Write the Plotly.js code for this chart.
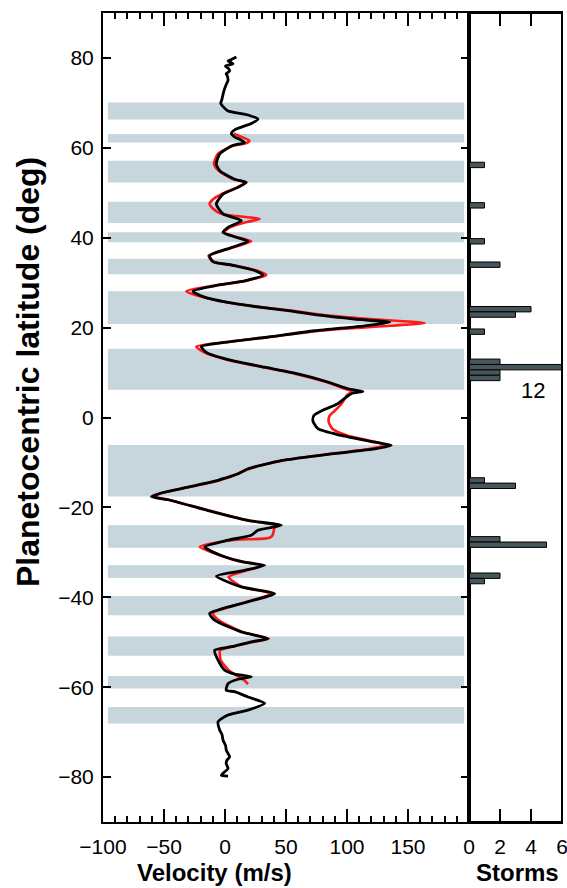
<!DOCTYPE html>
<html>
<head>
<meta charset="utf-8">
<script src="https://cdn.plot.ly/plotly-3.0.1.min.js"></script>
<style>
html,body{margin:0;padding:0;background:#fff;}
#wrap{position:relative;width:567px;height:888px;}
#chart{width:567px;height:888px;}
#cover{position:absolute;left:563px;top:10px;width:4px;height:815px;background:#fff;pointer-events:none;}
</style>
</head>
<body>
<div id="wrap"><div id="chart"></div><div id="cover"></div></div>
<script>
// Black profile (latitude in deg, velocity in m/s)
const blackLat = [80.2,79.6,79.3,78.7,78.2,77.6,77.1,76.5,76.0,75.0,74.1,73.0,71.9,70.8,69.9,69.0,68.2,67.3,66.4,65.4,64.1,63.2,62.4,61.9,61.2,60.7,60.4,58.6,56.4,54.9,53.0,52.3,51.2,49.7,47.5,45.3,43.8,42.3,41.2,40.1,39.2,37.8,36.0,34.7,33.8,32.7,31.7,30.4,29.3,28.1,26.9,25.6,24.7,23.8,22.7,21.9,21.2,20.4,19.3,17.8,16.7,15.8,14.5,12.7,11.2,9.7,7.9,6.4,5.8,5.3,3.0,1.6,0.5,-0.7,-2.5,-4.0,-5.5,-6.2,-7.0,-8.1,-9.6,-11.4,-12.5,-13.4,-13.7,-14.0,-15.5,-16.8,-17.6,-18.3,-20.7,-22.9,-24.0,-25.1,-26.2,-27.3,-28.8,-30.7,-32.2,-32.9,-34.0,-35.3,-37.7,-39.2,-41.0,-43.6,-45.1,-47.7,-49.2,-49.9,-51.0,-51.8,-54.0,-56.2,-57.1,-57.7,-58.3,-59.2,-60.7,-61.0,-62.2,-63.6,-65.1,-66.2,-67.7,-69.6,-70.5,-71.8,-73.0,-74.0,-75.5,-76.3,-77.0,-78.1,-79.0,-79.6,-79.8];
const blackVel = [9.3,5.0,2.5,6.6,0.3,3.0,3.8,1.0,1.9,2.5,1.0,-0.5,-1.6,-2.5,-3.5,-1.0,2.5,18.9,27.0,21.6,8.5,5.2,8.0,12.0,16.0,9.0,5.2,-4.4,-7.1,-4.3,7.9,17.5,10.7,-1.6,-7.1,-1.6,13.4,2.5,-1.6,9.3,18.9,5.2,-12.6,-9.8,7.9,24.3,31.1,16.1,-8.5,-26.2,-18.0,2.5,24.3,51.6,79.0,106.0,135.0,114.5,73.5,32.5,-0.3,-19.4,-15.3,5.2,32.5,59.8,84.4,100.8,113.0,103.5,92.0,80.0,73.0,72.0,76.2,95.3,122.7,136.3,122.7,87.0,46.2,18.9,10.7,1.0,-3.0,-5.7,-30.3,-52.2,-60.4,-46.7,-13.9,18.9,46.2,27.0,21.6,2.5,-16.6,-3.0,16.1,32.5,16.1,-7.1,13.4,40.7,18.9,-12.6,-8.5,13.4,35.2,21.6,5.2,-8.5,-5.7,-0.3,7.9,21.6,10.0,2.5,1.0,7.9,18.9,32.5,18.9,2.5,-5.7,-4.3,-2.5,-1.6,0.5,1.0,3.8,1.5,1.0,2.5,-1.0,-3.0,2.5];

// Red profile
const redLat = [63.2,62.5,61.6,61.0,60.4,58.6,56.4,54.9,53.0,52.3,51.2,49.7,48.5,47.5,46.5,45.3,44.2,43.5,42.3,41.2,40.1,39.2,37.8,36.0,34.7,33.8,32.7,31.7,30.4,29.3,28.1,26.9,25.6,24.7,23.8,22.7,21.9,21.0,20.4,19.3,17.8,16.7,15.8,14.5,12.7,11.2,9.7,7.9,6.4,5.8,5.0,3.0,1.5,0.4,-1.0,-2.5,-4.0,-5.5,-6.2,-7.0,-8.1,-9.6,-11.4,-12.5,-14.0,-15.5,-16.8,-17.6,-18.3,-20.7,-22.9,-24.0,-25.1,-26.2,-26.8,-27.3,-28.8,-30.7,-32.2,-32.9,-34.0,-35.5,-37.7,-39.2,-41.0,-43.6,-45.1,-47.7,-49.2,-50.0,-51.0,-51.8,-54.0,-56.2,-57.5,-58.5,-59.3];
const redVel = [7,13,20,17,6,-6,-9,-5,7,17,10,-3,-10,-12.6,-10,-3,28.4,18,4,-1,10,21.6,6,-13.5,-10,8,26,33.9,17,-10,-31.7,-20,2,25,54,85,120,163.7,135,78,33,-2,-23.5,-17,4,31,58,83,98,104,100,95.4,90,85.8,85,88,100,124,132,118,86,46,20,11,-5,-30,-52,-58,-46,-13,18,40.7,40,39,36,5,-20.7,-4,15,31,18,3,14,38,18,-10,-5,14,36,22,6,-4,-3.5,3,10,16,18.9];

// Shaded latitude bands (deg)
const bandLo = [66.3,61.2,52.3,43.3,39.0,31.9,20.8,6.2,-17.6,-29.0,-35.7,-44.0,-53.0,-60.3,-68.1];
const bandHi = [70.1,63.1,57.1,48.0,41.2,35.3,28.1,15.3,-6.1,-24.0,-32.9,-39.7,-48.7,-57.5,-64.4];

// Storm histogram
const stormLat = [56.2,47.2,39.2,34.0,24.1,22.9,19.1,12.4,11.2,10.0,8.8,-14.0,-15.2,-27.1,-28.3,-35.2,-36.4];
const stormCount = [1,1,1,2,4,3,1,2,12,2,2,1,3,2,5,2,1];

const velTicks = [-100,-50,0,50,100,150];
const stormTicks = [0,2,4,6];
const latTicks = [-80,-60,-40,-20,0,20,40,60,80];

const FONT = 'Liberation Sans, Arial, Helvetica, sans-serif';
const minus = v => v<0 ? '\u2212'+Math.abs(v) : String(v);

const shapes = bandLo.map((lo,i)=>({
  type:'rect', xref:'x', yref:'y', x0:-96, x1:196, y0:lo, y1:bandHi[i],
  fillcolor:'#c6d6dc', line:{width:0}, layer:'below'
}));

const split = 366/459;
shapes.push({type:'rect', xref:'paper', yref:'paper', x0:split, x1:1, y0:0, y1:1, fillcolor:'rgba(0,0,0,0)', line:{color:'#000', width:2}, layer:'above'});

const traces = [
  {x:redVel, y:redLat, type:'scatter', mode:'lines', line:{color:'#ff1a1a', width:2.6, shape:'spline', smoothing:0.6}, xaxis:'x', yaxis:'y', hoverinfo:'skip'},
  {x:blackVel, y:blackLat, type:'scatter', mode:'lines', line:{color:'#000000', width:2.8, shape:'spline', smoothing:0.6}, xaxis:'x', yaxis:'y', hoverinfo:'skip'},
  {x:stormCount, y:stormLat, type:'bar', orientation:'h', width:1.2, cliponaxis:true, marker:{color:'#46565a', line:{color:'#000', width:1}}, xaxis:'x2', yaxis:'y2', hoverinfo:'skip'}
];

const layout = {
  width:567, height:888,
  margin:{l:103, r:5, t:13, b:66},
  paper_bgcolor:'#fff', plot_bgcolor:'rgba(0,0,0,0)',
  showlegend:false,
  font:{family:FONT, size:21, color:'#000'},
  xaxis:{domain:[0,split], range:[-100,200], tickvals:velTicks, ticktext:velTicks.map(minus),
    ticks:'inside', ticklen:13, tickwidth:2, tickcolor:'#000', showline:true, linewidth:2, linecolor:'#000', mirror:'ticks',
    showgrid:false, zeroline:false, tickfont:{size:21, family:FONT}, ticklabelstandoff:5, ticklabeloverflow:'allow',
    minor:{dtick:10, tick0:0, ticks:'inside', ticklen:6, tickwidth:2, tickcolor:'#000', showgrid:false}},
  yaxis:{domain:[0,1], range:[-90,90], tickvals:latTicks, ticktext:latTicks.map(minus),
    ticks:'inside', ticklen:8, tickwidth:2, tickcolor:'#000', showline:true, linewidth:2, linecolor:'#000', mirror:'ticks',
    showgrid:false, zeroline:false, tickfont:{size:21, family:FONT}, ticklabelstandoff:3},
  xaxis2:{domain:[split,1], range:[0,6], anchor:'y2', tickvals:stormTicks, ticks:'inside', ticklen:13, tickwidth:2, tickcolor:'#000',
    showline:true, linewidth:2, linecolor:'#000', mirror:'ticks', showgrid:false, zeroline:false, tickfont:{size:21, family:FONT},
    ticklabelstandoff:5, ticklabeloverflow:'allow'},
  yaxis2:{domain:[0,1], range:[-90,90], anchor:'x2', showticklabels:false, ticks:'', showline:true, linewidth:2, linecolor:'#000', mirror:true,
    showgrid:false, zeroline:false},
  shapes:shapes,
  annotations:[
    {text:'<b>Velocity (m/s)</b>', xref:'paper', yref:'paper', x:(214-103)/459, y:-0.062, xanchor:'center', yanchor:'middle', showarrow:false, font:{size:24, family:FONT}},
    {text:'<b>Storms</b>', xref:'paper', yref:'paper', x:(517-103)/459, y:-0.062, xanchor:'center', yanchor:'middle', showarrow:false, font:{size:24, family:FONT}},
    {text:'<b>Planetocentric latitude (deg)</b>', xref:'paper', yref:'paper', x:(28-103)/459, y:(822-372)/809, xanchor:'center', yanchor:'middle', textangle:-90, showarrow:false, font:{size:32, family:FONT}},
    {text:'12', xref:'x2', yref:'y2', x:4.1, y:6.0, xanchor:'center', yanchor:'middle', showarrow:false, font:{size:22, family:FONT}}
  ]
};

Plotly.newPlot('chart', traces, layout, {staticPlot:true, displayModeBar:false});
</script>
</body>
</html>
